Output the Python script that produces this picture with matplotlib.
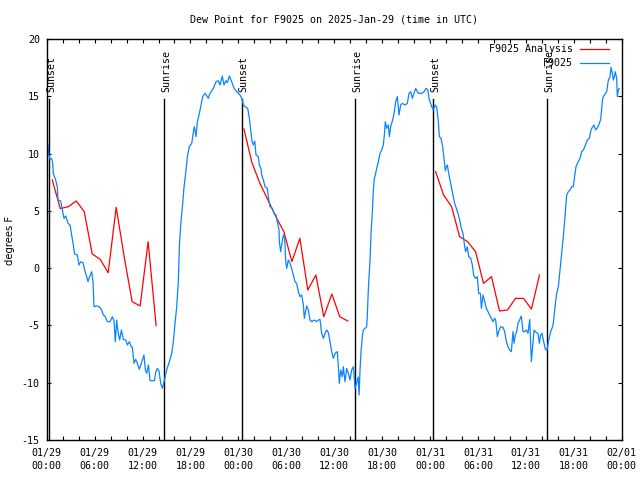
import matplotlib
matplotlib.use("Agg")
import matplotlib.pyplot as plt
import numpy as np

plt.rcParams['axes.unicode_minus'] = False
MONO = 'DejaVu Sans Mono'
FS = 7.2

title = "Dew Point for F9025 on 2025-Jan-29 (time in UTC)"
ylabel = "degrees F"

# x tick labels every 6 hours, hours since 01/29 00:00 UTC
xtick_hours = [0, 6, 12, 18, 24, 30, 36, 42, 48, 54, 60, 66, 72]
xtick_labels = ["01/29\n00:00", "01/29\n06:00", "01/29\n12:00", "01/29\n18:00",
                "01/30\n00:00", "01/30\n06:00", "01/30\n12:00", "01/30\n18:00",
                "01/31\n00:00", "01/31\n06:00", "01/31\n12:00", "01/31\n18:00",
                "02/01\n00:00"]
ytick_values = [-15, -10, -5, 0, 5, 10, 15, 20]

# sun events (hours)
sun_hours = [0.33, 14.73, 24.4, 38.65, 48.43, 62.69]
sun_labels = ["Sunset", "Sunrise", "Sunset", "Sunrise", "Sunset", "Sunrise"]

# F9025 Analysis (red), three nights
analysis_h1 = [0.7, 1.7, 2.7, 3.7, 4.7, 5.7, 6.7, 7.7, 8.7, 9.7, 10.7, 11.7, 12.7, 13.7]
analysis_v1 = [7.69, 5.2, 5.36, 5.86, 4.93, 1.24, 0.77, -0.40, 5.31, 1.0, -2.93, -3.30, 2.31, -5.02]
analysis_h2 = [24.7, 25.7, 26.7, 27.7, 28.7, 29.7, 30.7, 31.7, 32.7, 33.7, 34.7, 35.7, 36.7, 37.7]
analysis_v2 = [12.14, 9.2, 7.40, 5.95, 4.49, 3.18, 0.57, 2.60, -1.91, -0.60, -4.24, -2.26, -4.24, -4.61]
analysis_h3 = [48.7, 49.7, 50.7, 51.7, 52.7, 53.7, 54.7, 55.7, 56.7, 57.7, 58.7, 59.7, 60.7, 61.7]
analysis_v3 = [8.42, 6.38, 5.37, 2.75, 2.31, 1.44, -1.33, -0.74, -3.74, -3.65, -2.64, -2.64, -3.57, -0.60]

# F9025 observations (blue)
obs_h = [0.05, 0.16, 0.25, 0.41, 0.62, 0.75, 0.83, 1.12, 1.33, 1.41, 1.75, 1.96, 2.17, 2.38, 2.67,
         2.92, 3.13, 3.33, 3.50, 3.84, 4.04, 4.25, 4.55, 4.75, 5.00, 5.17, 5.38, 5.63, 5.80, 5.92,
         6.26, 6.55, 6.84, 7.09, 7.30, 7.59, 7.93, 8.22, 8.43, 8.59, 8.76, 8.93, 9.14, 9.35, 9.60,
         9.89, 10.10, 10.35, 10.60, 10.72, 10.93, 11.14, 11.35, 11.60, 11.85, 12.18, 12.35, 12.52,
         12.73, 12.94, 13.23, 13.48, 13.64, 13.85, 14.06, 14.27, 14.48, 14.69,
         15.02, 15.36, 15.65, 15.86, 16.07, 16.28, 16.49, 16.61, 16.78, 17.03, 17.20, 17.45, 17.61,
         17.86, 18.16, 18.37, 18.49, 18.70, 18.87, 19.12, 19.28, 19.53, 19.83, 20.24, 20.45, 20.87,
         21.20, 21.49, 21.70, 21.99, 22.20, 22.45, 22.62, 22.87, 23.16, 23.46, 23.79, 24.21, 24.42,
         24.63, 24.83, 25.17, 25.38, 25.55, 25.71, 25.88, 26.05, 26.21, 26.50, 26.63,
         26.83, 26.92, 27.13, 27.34, 27.63, 27.75, 27.96, 28.25, 28.46, 28.71, 28.88, 29.09, 29.13,
         29.30, 29.42, 29.63, 29.80, 29.92, 30.05, 30.26, 30.47, 30.67, 30.88, 31.09, 31.30, 31.51,
         31.72, 31.93, 32.14, 32.26, 32.55, 32.76, 32.97, 33.18, 33.47, 33.80, 34.01, 34.22, 34.43,
         34.64, 34.85, 35.06, 35.27, 35.48, 35.68, 35.89, 36.10, 36.39, 36.52, 36.64, 36.81, 37.02,
         37.14, 37.35, 37.56, 37.77, 37.98, 38.19, 38.40, 38.61, 38.81, 39.00, 39.12, 39.23, 39.36,
         39.52, 39.65, 39.86, 40.07, 40.15, 40.28, 40.49, 40.61, 40.78, 40.90, 41.03, 41.15, 41.32,
         41.53, 41.74, 41.95, 42.15, 42.28, 42.40, 42.57, 42.78, 42.91, 43.07, 43.32, 43.49, 43.70,
         43.91, 44.12, 44.32, 44.53, 44.87, 45.16, 45.37, 45.58, 45.79, 46.00, 46.20, 46.54, 46.95,
         47.25, 47.50, 47.71, 47.91, 48.21, 48.41, 48.62, 48.83, 49.04, 49.17, 49.38, 49.58, 49.75,
         49.92, 50.04, 50.17, 50.33, 50.58, 50.88, 51.08, 51.29, 51.50, 51.71, 51.92, 52.13, 52.34,
         52.46, 52.67, 52.84, 53.09, 53.30, 53.46, 53.67, 53.92, 54.09, 54.30, 54.43, 54.63, 54.84,
         55.05, 55.26, 55.47, 55.68, 55.89, 56.09, 56.22, 56.43, 56.59, 56.85, 57.14, 57.35, 57.56,
         57.76, 57.97, 58.18, 58.39, 58.52, 58.68, 58.85, 59.02, 59.22, 59.43, 59.64, 59.85, 60.06,
         60.27, 60.48, 60.60, 60.69, 60.81, 61.02, 61.31, 61.52, 61.69, 61.85, 62.02, 62.23, 62.44,
         62.65, 62.86, 63.11, 63.30, 63.44, 63.65, 63.86, 64.07, 64.27, 64.48, 64.69, 64.90, 65.11,
         65.32, 65.53, 65.74, 65.94, 66.07, 66.28, 66.49, 66.78, 66.99, 67.20, 67.45, 67.70, 67.95,
         68.16, 68.32, 68.53, 68.74, 68.99, 69.20, 69.37, 69.62, 69.83, 70.12, 70.33, 70.54, 70.66,
         70.83, 70.95, 71.08, 71.20, 71.37, 71.45, 71.58, 71.70]
obs_v = [10.3, 10.84, 9.96, 9.50, 9.58, 9.15, 8.27, 7.69, 7.11, 5.95, 5.86, 5.07, 4.35, 4.55, 3.91,
         3.76, 2.89, 2.02, 1.23, 1.15, 0.27, 0.55, 0.48, -0.16, -0.74, -1.18, -0.74, -0.31, -1.18, -3.36,
         -3.30, -3.36, -3.57, -4.09, -4.18, -4.67, -4.67, -4.24, -4.59, -6.42, -4.53, -5.55, -6.27, -5.40, -6.22,
         -6.27, -6.71, -6.42, -6.86, -6.91, -8.31, -7.96, -8.31, -8.83, -8.31, -7.58, -8.89, -9.18,
         -8.46, -9.82, -9.82, -9.82, -9.12, -8.75, -8.95, -10.05, -10.49, -9.91,
         -8.89, -8.16, -7.44, -6.42, -4.82, -3.36, -1.04, 1.87, 3.77, 5.66, 7.11, 8.57, 9.73,
         10.60, 10.89, 11.91, 12.35, 11.48, 12.78, 13.51, 14.09, 14.97, 15.26, 14.82, 15.26, 15.69,
         16.28, 16.36, 15.99, 16.77, 15.99, 16.36, 16.19, 16.77, 16.28, 15.69, 15.40, 15.11, 14.82,
         14.24, 14.09, 13.95, 13.08, 12.06, 11.04, 10.75, 11.1, 9.88, 9.73, 9.0,
         8.71, 8.13, 7.69, 7.11, 6.97, 6.24, 5.37, 5.22, 4.78, 4.64, 4.06, 3.33, 2.31,
         1.44, 2.02, 2.89, 2.60, 0.71, -0.02, 0.71, 0.42, -0.02, -0.60, -1.18, -1.33, -2.05,
         -2.49, -2.34, -3.22, -4.38, -3.30, -3.65, -4.53, -4.67, -4.53, -4.67, -4.53, -4.47, -5.69,
         -6.13, -5.69, -5.40, -5.63, -6.42, -7.29, -7.87, -7.44, -7.29, -8.60, -10.06, -8.89, -9.47,
         -8.60, -9.91, -8.75, -9.18, -9.76, -8.89, -8.60, -10.49, -10.06, -9.5, -11.07, -8.89, -7.3,
         -5.98, -5.40, -5.25, -5.11, -4.09, -1.76, 0.71, 3.04, 4.93, 6.82, 7.84, 8.13, 8.71,
         9.29, 10.02, 10.31, 10.75, 11.62, 12.78, 12.20, 12.49, 11.48, 12.35, 12.93, 13.51, 14.53,
         14.97, 13.37, 14.24, 14.38, 14.24, 14.38, 15.26, 15.40, 14.82, 15.26, 15.69, 15.26, 15.26,
         15.40, 15.69, 15.55, 14.68, 14.09, 13.80, 14.24, 14.09, 12.78, 11.48, 11.33, 10.60, 9.6,
         8.5, 8.86, 9.0, 8.28, 7.40, 6.38, 5.66, 5.22, 4.78, 4.20, 3.48, 3.04, 1.87,
         1.44, 1.87, 1.0, 0.86, 0.27, -0.60, -0.89, -0.74, -2.20, -2.20, -3.51, -2.34, -2.93,
         -3.51, -3.80, -4.09, -4.38, -4.67, -4.38, -4.53, -5.98, -5.54, -5.11, -5.17, -5.54, -6.42,
         -6.85, -7.14, -7.29, -5.54, -6.56, -5.84, -5.54, -4.82, -4.53, -4.18, -5.54, -5.54, -5.40,
         -5.69, -4.47, -6.56, -8.16, -7.14, -5.40, -5.63, -5.69, -6.56, -5.84, -5.69, -6.42, -7.09,
         -7.14, -6.27, -5.54, -5.2, -4.82, -3.36, -2.20, -1.62, -0.16, 1.29, 2.75, 4.49, 6.38,
         6.68, 6.82, 7.11, 7.11, 7.84, 8.86, 9.21, 9.58, 10.17, 10.31, 10.75, 11.18, 11.33,
         12.06, 12.29, 12.49, 12.06, 12.29, 12.64, 12.99, 14.82, 15.11, 15.40, 16.42, 16.71, 17.53,
         17.0, 16.42, 16.71, 17.15, 16.57, 14.97, 15.55, 15.69]

RED = '#ff0000'
BLUE = '#0a84ff'

fig = plt.figure(figsize=(6.4, 4.8), dpi=100)
ax = fig.add_axes([46.7/640, 40/480, 575/640, 401/480])

# sunrise / sunset markers
for h, lab in zip(sun_hours, sun_labels):
    ax.plot([h, h], [-15, 14.75], color='black', lw=1.0, zorder=1)
    ax.text(h + 0.2, 15.35, lab, rotation=90, ha='center', va='bottom',
            family=MONO, fontsize=FS, zorder=3)

ax.plot(analysis_h1, analysis_v1, color=RED, lw=0.9, label='F9025 Analysis', zorder=2)
ax.plot(analysis_h2, analysis_v2, color=RED, lw=0.9, zorder=2)
ax.plot(analysis_h3, analysis_v3, color=RED, lw=0.9, zorder=2)
ax.plot(obs_h, obs_v, color=BLUE, lw=0.9, label='F9025', zorder=2)

ax.set_xlim(0, 72)
ax.set_ylim(-15, 20)
ax.set_xticks(xtick_hours)
ax.set_xticklabels(xtick_labels, family=MONO, fontsize=FS, linespacing=1.35)
ax.set_xticks(np.arange(0, 73, 2), minor=True)
ax.set_yticks(ytick_values)
ax.set_yticklabels([str(v) for v in ytick_values], family=MONO, fontsize=FS)
ax.tick_params(which='both', direction='in', top=True, right=True, length=3, width=0.8)
ax.tick_params(axis='x', pad=6)
ax.tick_params(axis='y', pad=5)
for s in ax.spines.values():
    s.set_linewidth(1.0)

fig.text(334/640, 1 - 20/480, title, ha='center', va='center', family=MONO, fontsize=FS)
fig.text(10/640, 240/480, ylabel, rotation=90, ha='center', va='center',
         family='DejaVu Sans', fontsize=FS)

leg = ax.legend(loc='upper right', bbox_to_anchor=(1 - 13/575, 1 - 5.5/401), frameon=False,
                markerfirst=False, prop={'family': MONO, 'size': FS},
                handlelength=2.9, handletextpad=0.7, labelspacing=0.38,
                borderpad=0, borderaxespad=0)

fig.savefig('out.png', dpi=100)
